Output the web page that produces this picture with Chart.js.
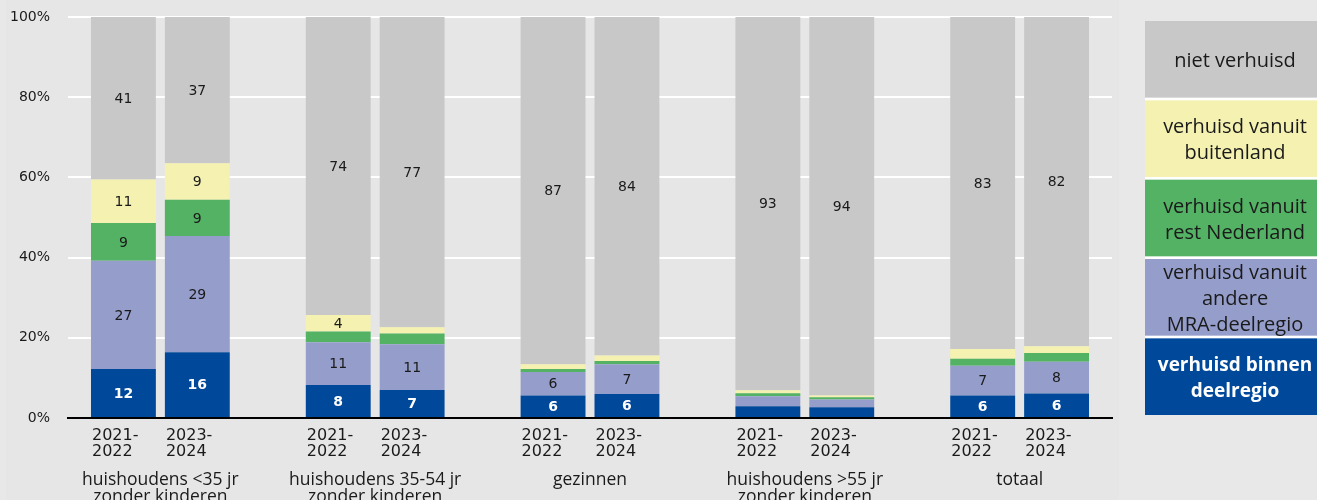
<!DOCTYPE html>
<html>
<head>
<meta charset="utf-8">
<script src="https://cdn.jsdelivr.net/npm/chart.js@4.4.1/dist/chart.umd.min.js"></script>
<style>
  html, body { margin: 0; padding: 0; background: #e8e8e8; }
  canvas { display: block; }
</style>
</head>
<body>
<canvas id="chart" width="1317" height="500"></canvas>
<script>
// groups on the x axis (two lines each where the label wraps)
const categories = [
    ['huishoudens <35 jr', 'zonder kinderen'],
    ['huishoudens 35-54 jr', 'zonder kinderen'],
    ['gezinnen'],
    ['huishoudens >55 jr', 'zonder kinderen'],
    ['totaal']
];
const periods = ['2021-2022', '2023-2024'];
const periodLines = [['2021-', '2022'], ['2023-', '2024']];

// stacking order, bottom to top
const segmentNames = [
    'verhuisd binnen deelregio',
    'verhuisd vanuit andere MRA-deelregio',
    'verhuisd vanuit rest Nederland',
    'verhuisd vanuit buitenland',
    'niet verhuisd'
];
const legendLines = [
    ['verhuisd binnen', 'deelregio'],
    ['verhuisd vanuit', 'andere', 'MRA-deelregio'],
    ['verhuisd vanuit', 'rest Nederland'],
    ['verhuisd vanuit', 'buitenland'],
    ['niet verhuisd']
];
const colors = ['#004899', '#959dcb', '#53b264', '#f5f1b1', '#c8c8c8'];

// percentages per category, 2021-2022
const binnen2122     = [12.2, 8.2, 5.6, 2.9, 5.6];
const andereMra2122  = [27.0, 10.7, 5.9, 2.5, 7.4];
const restNl2122     = [9.4, 2.7, 0.7, 0.8, 1.8];
const buitenland2122 = [10.9, 4.1, 1.2, 0.7, 2.4];
const niet2122       = [40.5, 74.3, 86.6, 93.1, 82.8];

// percentages per category, 2023-2024
const binnen2324     = [16.4, 7.0, 6.0, 2.7, 6.1];
const andereMra2324  = [29.0, 11.4, 7.4, 1.9, 7.9];
const restNl2324     = [9.0, 2.7, 0.8, 0.6, 2.2];
const buitenland2324 = [9.1, 1.5, 1.4, 0.4, 1.7];
const niet2324       = [36.5, 77.4, 84.4, 94.4, 82.1];

const yTicks = [0, 20, 40, 60, 80, 100];

const seriesByPeriod = [
    [binnen2122, andereMra2122, restNl2122, buitenland2122, niet2122],
    [binnen2324, andereMra2324, restNl2324, buitenland2324, niet2324]
];

const datasets = [];
seriesByPeriod.forEach((series, p) => {
    series.forEach((values, s) => {
        datasets.push({
            label: segmentNames[s] + ' ' + periods[p],
            segment: s,
            stack: periods[p],
            data: values.map((v, i) => ({ x: i, y: v })),
            backgroundColor: colors[s],
            borderWidth: 0
        });
    });
});

const background = {
    id: 'background',
    beforeDraw(chart) {
        const ctx = chart.ctx;
        ctx.save();
        ctx.fillStyle = '#e8e8e8';
        ctx.fillRect(0, 0, chart.width, chart.height);
        ctx.fillStyle = '#e6e6e6';
        ctx.fillRect(6, 0, 1113, chart.height);
        ctx.restore();
    }
};

// numbers inside the segments
const valueLabels = {
    id: 'valueLabels',
    afterDatasetsDraw(chart) {
        const ctx = chart.ctx;
        ctx.save();
        ctx.textAlign = 'center';
        ctx.textBaseline = 'middle';
        chart.data.datasets.forEach((ds, di) => {
            const meta = chart.getDatasetMeta(di);
            meta.data.forEach((bar, i) => {
                const v = ds.data[i].y;
                if (v < 3.5) return;
                const onBlue = ds.segment === 0;
                ctx.fillStyle = onBlue ? '#ffffff' : '#1a1a1a';
                ctx.font = (onBlue ? 'bold ' : '') + '14px "DejaVu Sans"';
                ctx.fillText(String(Math.round(v)), bar.x, (bar.y + bar.base) / 2 + 1);
            });
        });
        ctx.restore();
    }
};

// period labels under each bar and group labels under each pair
const axisLabels = {
    id: 'axisLabels',
    afterDraw(chart) {
        const ctx = chart.ctx;
        const bottom = chart.chartArea.bottom;
        const metas = [chart.getDatasetMeta(0), chart.getDatasetMeta(segmentNames.length)];
        ctx.save();
        ctx.fillStyle = '#1a1a1a';
        ctx.textBaseline = 'alphabetic';
        categories.forEach((lines, i) => {
            ctx.font = '16px "DejaVu Sans"';
            ctx.textAlign = 'left';
            metas.forEach((meta, p) => {
                const bar = meta.data[i];
                periodLines[p].forEach((t, k) => {
                    ctx.fillText(t, bar.x - bar.width / 2 + 1, bottom + 22 + k * 16);
                });
            });
            const cx = (metas[0].data[i].x + metas[1].data[i].x) / 2;
            ctx.font = '17.5px "Open Sans"';
            ctx.textAlign = 'center';
            lines.forEach((t, k) => ctx.fillText(t, cx, bottom + 67 + k * 17));
        });
        ctx.restore();
    }
};

// legend as stacked coloured boxes on the right
const boxLegend = {
    id: 'boxLegend',
    afterDraw(chart) {
        const ctx = chart.ctx;
        const left = 1145, width = chart.width - left;
        const top = chart.chartArea.top + 4, bottom = chart.chartArea.bottom - 3;
        const gap = 2.7;
        const h = (bottom - top - gap * 4) / 5;
        ctx.save();
        ctx.fillStyle = '#ffffff';
        ctx.fillRect(left, top, width, bottom - top);
        ctx.textAlign = 'center';
        ctx.textBaseline = 'alphabetic';
        for (let k = 0; k < 5; k++) {
            const s = 4 - k; // top box is the top segment
            const y = top + k * (h + gap);
            ctx.fillStyle = colors[s];
            ctx.fillRect(left, y, width, h);
            const lines = legendLines[s];
            const cy = y + h / 2;
            ctx.fillStyle = s === 0 ? '#ffffff' : '#1a1a1a';
            ctx.font = s === 0 ? 'bold 19px "Open Sans"' : '20px "Open Sans"';
            lines.forEach((t, j) => {
                ctx.fillText(t, 1235, cy - (lines.length - 1) * 13 + j * 26 + 7.5);
            });
        }
        ctx.restore();
    }
};

new Chart(document.getElementById('chart'), {
    type: 'bar',
    data: { datasets },
    plugins: [background, valueLabels, axisLabels, boxLegend],
    options: {
        responsive: false,
        animation: false,
        categoryPercentage: 0.688,
        barPercentage: 0.878,
        layout: { padding: { left: 9, right: 205, top: 17, bottom: 74 } },
        plugins: {
            legend: { display: false },
            tooltip: { enabled: false }
        },
        scales: {
            x: {
                type: 'linear',
                offset: false,
                min: -0.43,
                max: 4.43,
                ticks: { display: false, stepSize: 1, includeBounds: false },
                grid: { display: false },
                border: { display: true, color: '#000000', width: 2 }
            },
            y: {
                stacked: true,
                min: 0,
                max: 100,
                afterBuildTicks(axis) {
                    axis.ticks = yTicks.map(v => ({ value: v }));
                },
                afterFit(axis) {
                    // keep the wide label gap from adding space above and below
                    axis.width = 59;
                    axis.paddingTop = 0;
                    axis.paddingBottom = 0;
                },
                ticks: {
                    padding: 18,
                    color: '#1a1a1a',
                    font: { family: 'DejaVu Sans', size: 14 },
                    callback: v => v + '%'
                },
                grid: { color: '#ffffff', lineWidth: 2, drawTicks: false },
                border: { display: false }
            }
        }
    }
});
</script>
</body>
</html>
